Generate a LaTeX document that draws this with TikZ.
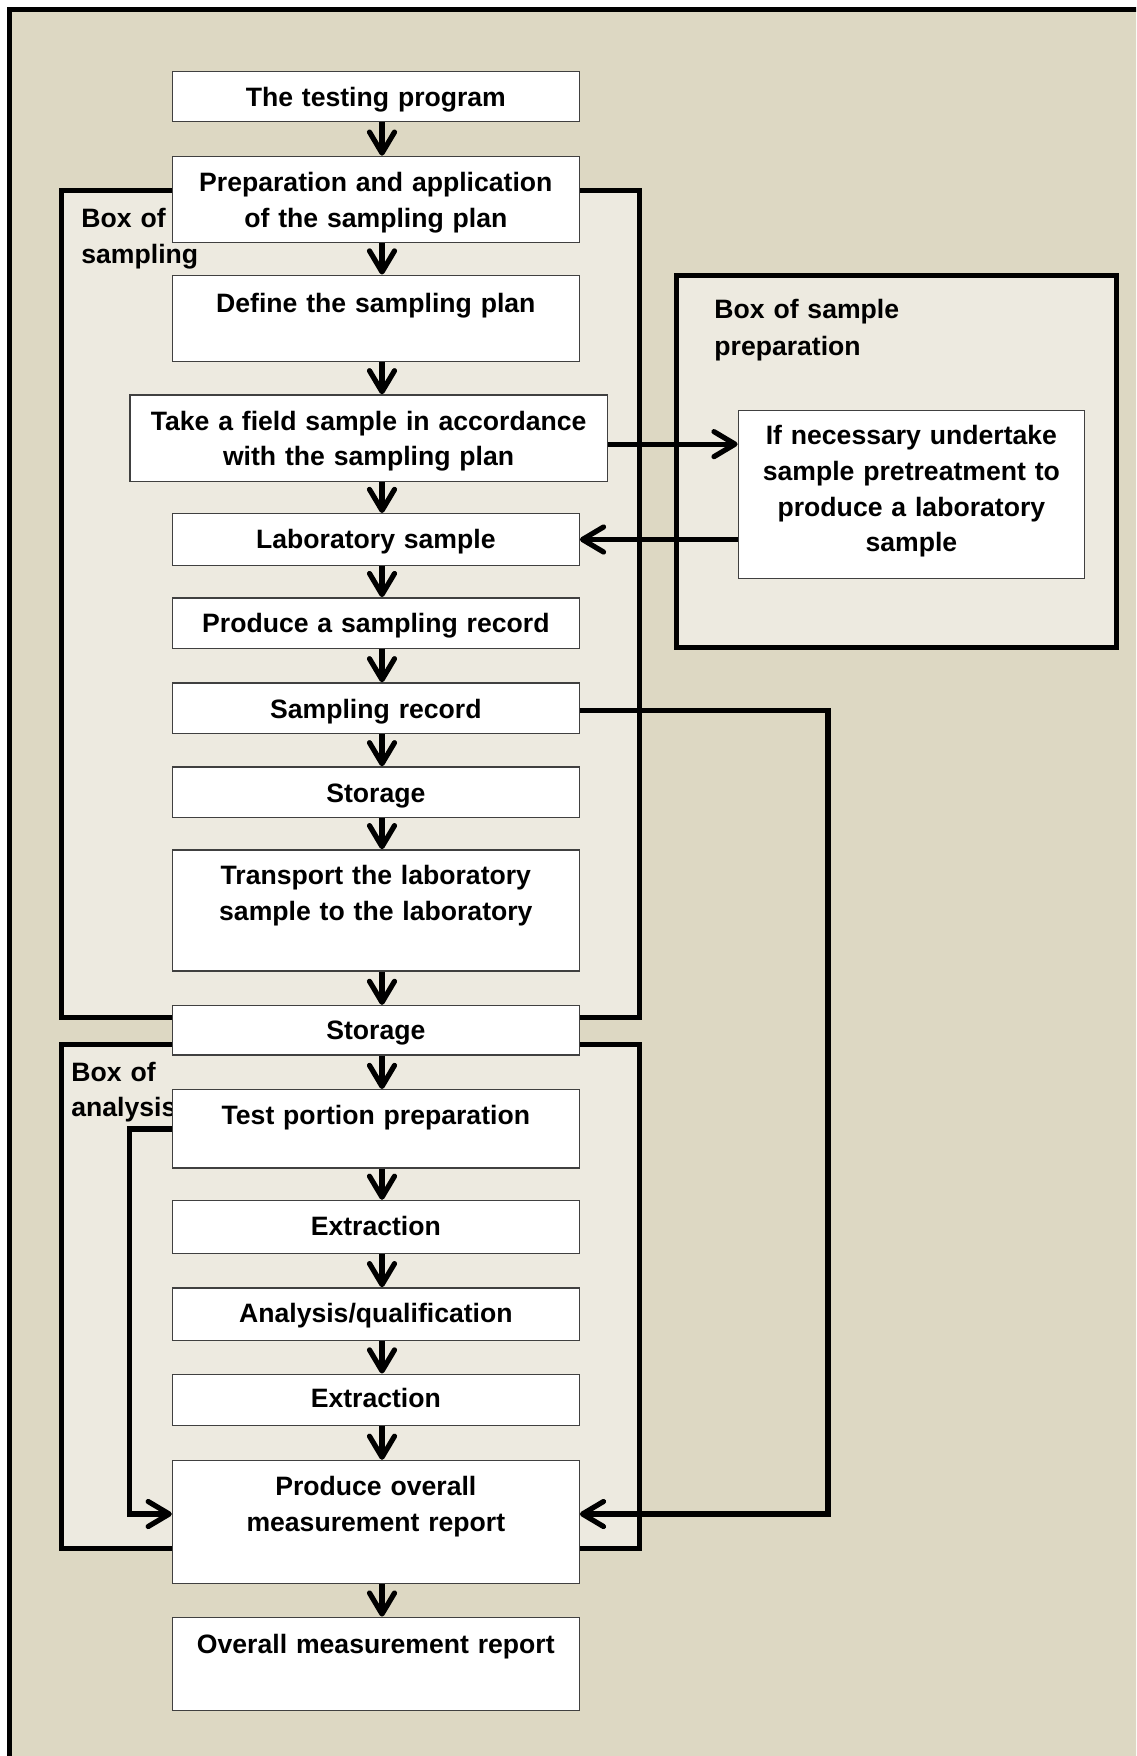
\documentclass[tikz,border=0pt]{standalone}
\usepackage{fontspec}
\setmainfont{Liberation Sans}
\usetikzlibrary{arrows.meta,calc}
\definecolor{tanbg}{RGB}{221,216,195}
\definecolor{palebg}{RGB}{237,234,224}
\tikzset{
  mainfont/.style={font=\bfseries\fontsize{13.3}{17.9}\selectfont},
  box/.style={mainfont, draw=black!75, line width=0.7pt, fill=white,
    inner xsep=0pt, inner ysep=0pt, text width=#1, align=center,
    anchor=north, text height=17.5pt},
  bigbox/.style={draw=black, fill=palebg, line width=2.5pt},
  lbl/.style={mainfont, inner sep=0pt, text width=140pt, align=left, anchor=base west},
  arr/.style={line width=2.6pt, line join=miter,
    -{Straight Barb[length=10.5pt,width=12.5pt,round]}},
}
\begin{document}
\begin{tikzpicture}[x=0.5pt,y=-0.5pt]
\useasboundingbox (0,0) rectangle (1136,1756);
\fill[white] (0,0) rectangle (1136,1756);
\begin{scope}
  \clip (0,0) rectangle (1136,1756);
  \draw[line width=2.5pt, fill=tanbg] (9.2,9.2) rectangle (1160,1780);
\end{scope}

% group boxes
\draw[bigbox] (61,190.7) rectangle (639.7,1017.5);
\draw[bigbox] (61,1044.2) rectangle (639.7,1548);
\draw[bigbox] (676.5,275.3) rectangle (1116.6,647.5);

% group labels
\node[lbl] (lsamp) at (81,227.5) {Box of\\sampling};
\node[lbl] (lana) at (71,1081) {Box of\\analysis};
\node[lbl, font=\bfseries\fontsize{13.3}{18.5}\selectfont] (lprep) at (714,318) {Box of sample\\preparation};

% main column
\node[box=203.35pt, text depth=7.7pt] (tp) at (375.85,70.6) {The testing program};
\node[box=203.35pt, text depth=25.65pt] (prep) at (375.85,155.7) {Preparation and application\\of the sampling plan};
\node[box=203.35pt, text height=18.5pt, text depth=24.6pt] (def) at (375.85,274.5) {Define the sampling plan};
\node[box=238.6pt, text depth=25.65pt] (field) at (368.6,394.3) {Take a field sample in accordance\\with the sampling plan};
\node[box=203.35pt, text depth=8.3pt] (lab) at (375.85,513) {Laboratory sample};
\node[box=203.35pt, text depth=7.7pt] (rec) at (375.85,597.1) {Produce a sampling record};
\node[box=203.35pt, text depth=7.7pt] (srec) at (375.85,682.3) {Sampling record};
\node[box=203.35pt, text depth=7.7pt] (stor1) at (375.85,766.3) {Storage};
\node[box=203.35pt, text depth=43pt] (trans) at (375.85,849.2) {Transport the laboratory\\sample to the laboratory};
\node[box=203.35pt, text height=16.85pt, text depth=7.8pt] (stor2) at (375.85,1004.9) {Storage};
\node[box=203.35pt, text depth=21.7pt] (tpp) at (375.85,1089) {Test portion preparation};
\node[box=203.35pt, text depth=8.85pt] (ext1) at (375.85,1199.8) {Extraction};
\node[box=203.35pt, text depth=8.85pt] (ana) at (375.85,1287.2) {Analysis/qualification};
\node[box=203.35pt, text height=16.75pt, text depth=9pt] (ext2) at (375.85,1373.5) {Extraction};
\node[box=203.35pt, text depth=44.1pt] (prod) at (375.85,1459.8) {Produce overall\\measurement report};
\node[box=203.35pt, text height=17.95pt, text depth=28.55pt] (omr) at (375.85,1616.6) {Overall measurement report};

% sample preparation
\node[box=173.1pt, text height=16.85pt, text depth=67.15pt] (pre) at (911.4,410) {If necessary undertake\\sample pretreatment to\\produce a laboratory\\sample};

% vertical flow
\coordinate (ax) at (382,0);
\foreach \a/\b in {tp/prep, prep/def, def/field, field/lab, lab/rec, rec/srec,
  srec/stor1, stor1/trans, trans/stor2, stor2/tpp, tpp/ext1, ext1/ana,
  ana/ext2, ext2/prod, prod/omr}
  \draw[arr] (\a.south -| ax) -- (\b.north -| ax);

% side connectors
\draw[arr] ([yshift=-3pt]field.east) -- ([yshift=-3pt]field.east -| pre.west);
\draw[arr] (pre.west |- lab.east) -- (lab.east);
\coordinate (rx) at (828,1514);
\draw[arr] ([yshift=-1pt]srec.east) -| (rx) -- (rx -| prod.east);
\coordinate (lx) at (129.3,1514);
\draw[arr] (tpp.west) -| (lx) -- (lx -| prod.west);
\end{tikzpicture}
\end{document}
